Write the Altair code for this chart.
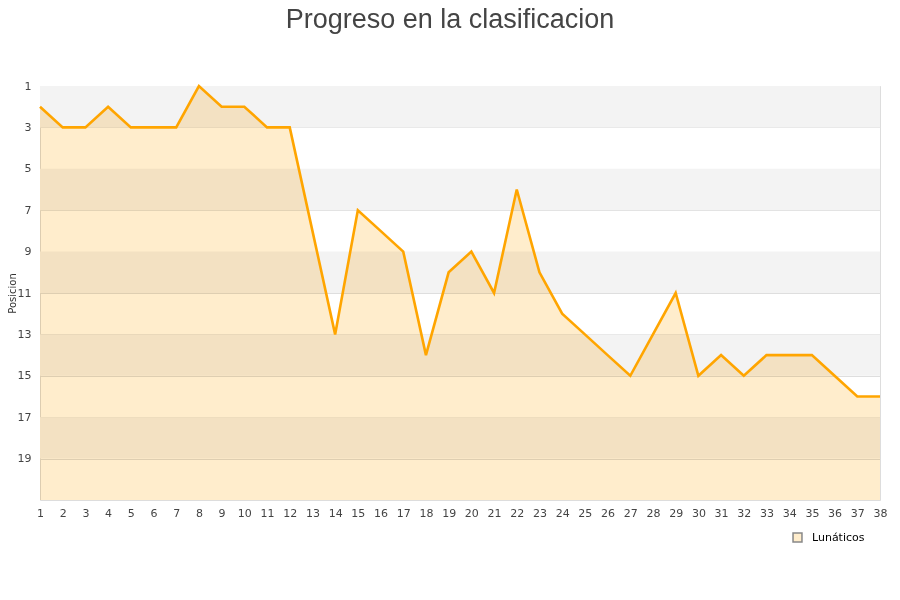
import altair as alt
import pandas as pd

jornadas = list(range(1, 39))
posiciones = [2, 3, 3, 2, 3, 3, 3, 1, 2, 2, 3, 3, 8, 13, 7, 8, 9, 14, 10, 9,
              11, 6, 10, 12, 13, 14, 15, 13, 11, 15, 14, 15, 14, 14, 14, 15, 16, 16]
serie = "Lunáticos"
band_start = [1, 5, 9, 13, 17]
band_end = [3, 7, 11, 15, 19]
y_ticks = [1, 3, 5, 7, 9, 11, 13, 15, 17, 19]

df = pd.DataFrame({"jornada": jornadas, "pos": posiciones, "serie": serie})
bands = pd.DataFrame({"y0": band_start, "y1": band_end, "xa": 1, "xb": 38})

W, H = 840, 414
xscale = alt.Scale(domain=[1, 38], nice=False, zero=False)
yscale = alt.Scale(domain=[1, 21], reverse=True, nice=False, zero=False)

x_axis = alt.Axis(values=jornadas, title=None, grid=False, ticks=False,
                  domain=False, labelFontSize=11, labelColor="#444",
                  labelPadding=7, labelFont="DejaVu Sans", labelFlush=False)
y_axis = alt.Axis(values=y_ticks, title="Posicion", grid=True,
                  gridColor="#dedede", ticks=False, domain=False,
                  labelFontSize=11, labelColor="#444", labelPadding=9,
                  labelFont="DejaVu Sans", titleFont="DejaVu Sans",
                  titleFontSize=10, titleFontWeight="normal",
                  titleColor="#333", titleX=-22.5, titleY=207)

band_layer = alt.Chart(bands).mark_rect(color="#f3f3f3").encode(
    x=alt.X("xa:Q", scale=xscale, axis=x_axis),
    x2="xb:Q",
    y=alt.Y("y0:Q", scale=yscale, axis=y_axis),
    y2="y1:Q",
)

base = alt.Chart(df)

area_layer = base.mark_area(blend="multiply", opacity=1).encode(
    x=alt.X("jornada:Q", scale=xscale, axis=x_axis),
    y=alt.Y("pos:Q", scale=yscale, axis=y_axis),
    y2=alt.Y2(datum=21),
    fill=alt.Fill("serie:N", scale=alt.Scale(range=["#ffedcc"]),
                  legend=alt.Legend(title=None, orient="none", legendX=752,
                                    legendY=446, symbolType="square",
                                    symbolSize=80, labelFontSize=11,
                                    labelOffset=9,
                                    labelFont="DejaVu Sans", labelColor="#000",
                                    symbolStrokeColor="#888",
                                    symbolStrokeWidth=1.5, symbolOpacity=1)),
)

line_layer = base.mark_line(color="#ffa500", strokeWidth=2.6).encode(
    x=alt.X("jornada:Q", scale=xscale, axis=x_axis),
    y=alt.Y("pos:Q", scale=yscale, axis=y_axis),
)

chart = alt.layer(band_layer, area_layer, line_layer).properties(
    width=W, height=H,
    title=alt.TitleParams("Progreso en la clasificacion", fontSize=27,
                          color="#444", font="Liberation Sans",
                          fontWeight="normal", anchor="middle", dx=-10,
                          offset=46),
    autosize=alt.AutoSizeParams(type="none"),
    padding={"left": 32, "top": 78, "right": 12, "bottom": 92},
).configure_view(stroke="#dddddd", strokeWidth=1)

chart.save("out.html", embed_options={"renderer": "svg", "actions": False})
